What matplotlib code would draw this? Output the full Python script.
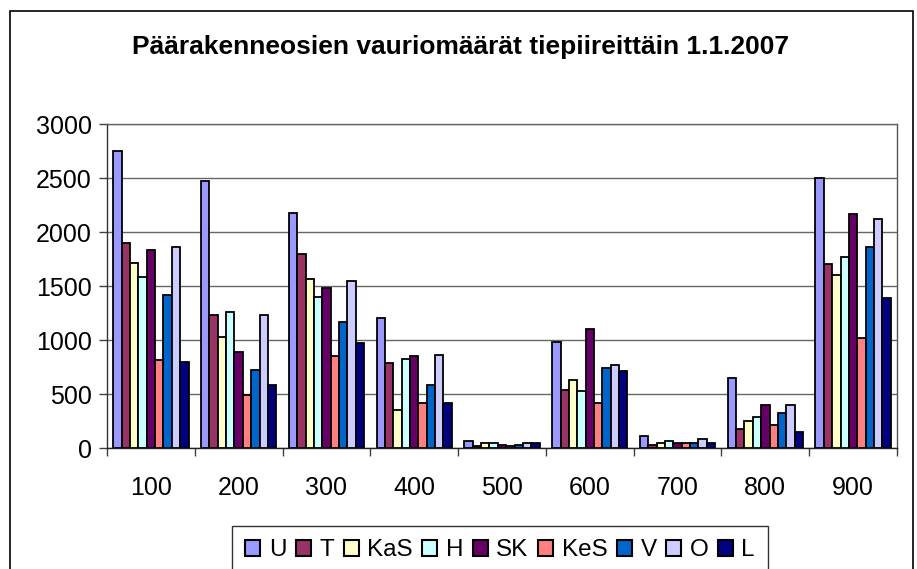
import matplotlib.pyplot as plt
import numpy as np
from matplotlib.patches import Rectangle

plt.rcParams['font.family'] = ['Liberation Sans', 'DejaVu Sans']

districts = ['100', '200', '300', '400', '500', '600', '700', '800', '900']
parts = ['U', 'T', 'KaS', 'H', 'SK', 'KeS', 'V', 'O', 'L']

# damage counts per structural part, one list per part (districts in order)
U = [2750, 2470, 2180, 1200, 65, 980, 115, 650, 2500]
T = [1900, 1235, 1800, 785, 20, 535, 30, 180, 1700]
KaS = [1715, 1030, 1565, 350, 45, 630, 45, 250, 1600]
H = [1585, 1255, 1400, 820, 45, 530, 65, 285, 1770]
SK = [1835, 885, 1485, 850, 30, 1100, 45, 400, 2165]
KeS = [815, 490, 850, 415, 20, 415, 45, 215, 1015]
V = [1415, 720, 1170, 585, 30, 745, 45, 320, 1865]
O = [1865, 1235, 1550, 865, 45, 765, 80, 400, 2120]
L = [800, 585, 970, 415, 50, 715, 50, 150, 1385]
series = [U, T, KaS, H, SK, KeS, V, O, L]

colors = ['#9999FF', '#993366', '#FFFFCC', '#CCFFFF', '#660066',
          '#FF8080', '#0066CC', '#CCCCFF', '#000080']

fig = plt.figure(figsize=(9.17, 5.69), dpi=100)
W, H_ = 917, 569
ax = fig.add_axes([107 / W, 1 - 448 / H_, 790 / W, 324 / H_])

# outer chart frame (runs off the bottom edge)
fig.patches.append(Rectangle((10 / W, -0.05), 903 / W, 1.05 - 11 / H_,
                             transform=fig.transFigure, fill=False,
                             edgecolor='black', linewidth=1.2))

n = len(parts)
width = 1.0 / (n + 1.5)
x = np.arange(len(districts))
for i, (vals, name) in enumerate(zip(series, parts)):
    offs = (i - (n - 1) / 2) * width
    ax.bar(x + offs, vals, width, color=colors[i], edgecolor='black',
           linewidth=1.3, label=name, zorder=3)

ax.set_xlim(-0.5, len(districts) - 0.5)
ax.set_ylim(0, 3000)
ax.set_yticks(range(0, 3001, 500))
ax.set_xticks(x)
ax.set_xticklabels(districts)
ax.set_xticks(np.arange(len(districts) + 1) - 0.5, minor=True)
ax.tick_params(axis='x', which='major', length=0, pad=20, labelsize=18)
ax.tick_params(axis='x', which='minor', length=6, width=1, color='#404040')
ax.tick_params(axis='y', length=6, width=1, pad=5, labelsize=18,
               color='#404040')

ax.grid(axis='y', color='#666666', linewidth=1.0, zorder=0)
ax.spines['left'].set_color('#333333')
ax.spines['bottom'].set_color('#222222')
ax.spines['top'].set_color('#666666')
ax.spines['right'].set_color('#555555')
for s in ax.spines.values():
    s.set_linewidth(1.0)
ax.spines['bottom'].set_zorder(4)

fig.text(461 / W, 1 - 47 / H_,
         'Päärakenneosien vauriomäärät tiepiireittäin 1.1.2007',
         ha='center', va='center', fontsize=19, fontweight='bold')

leg = fig.legend(loc='upper left', bbox_to_anchor=(232 / W, 1 - 526 / H_),
                 ncol=n, fontsize=17.5, frameon=True, fancybox=False,
                 handlelength=0.62, handleheight=0.62, handletextpad=0.34,
                 columnspacing=0.4, borderpad=0.55, borderaxespad=0)
leg.get_frame().set_edgecolor('black')
leg.get_frame().set_linewidth(1.0)
for h in leg.legend_handles:
    h.set_linewidth(1.5)

fig.savefig('out.png', dpi=100)
